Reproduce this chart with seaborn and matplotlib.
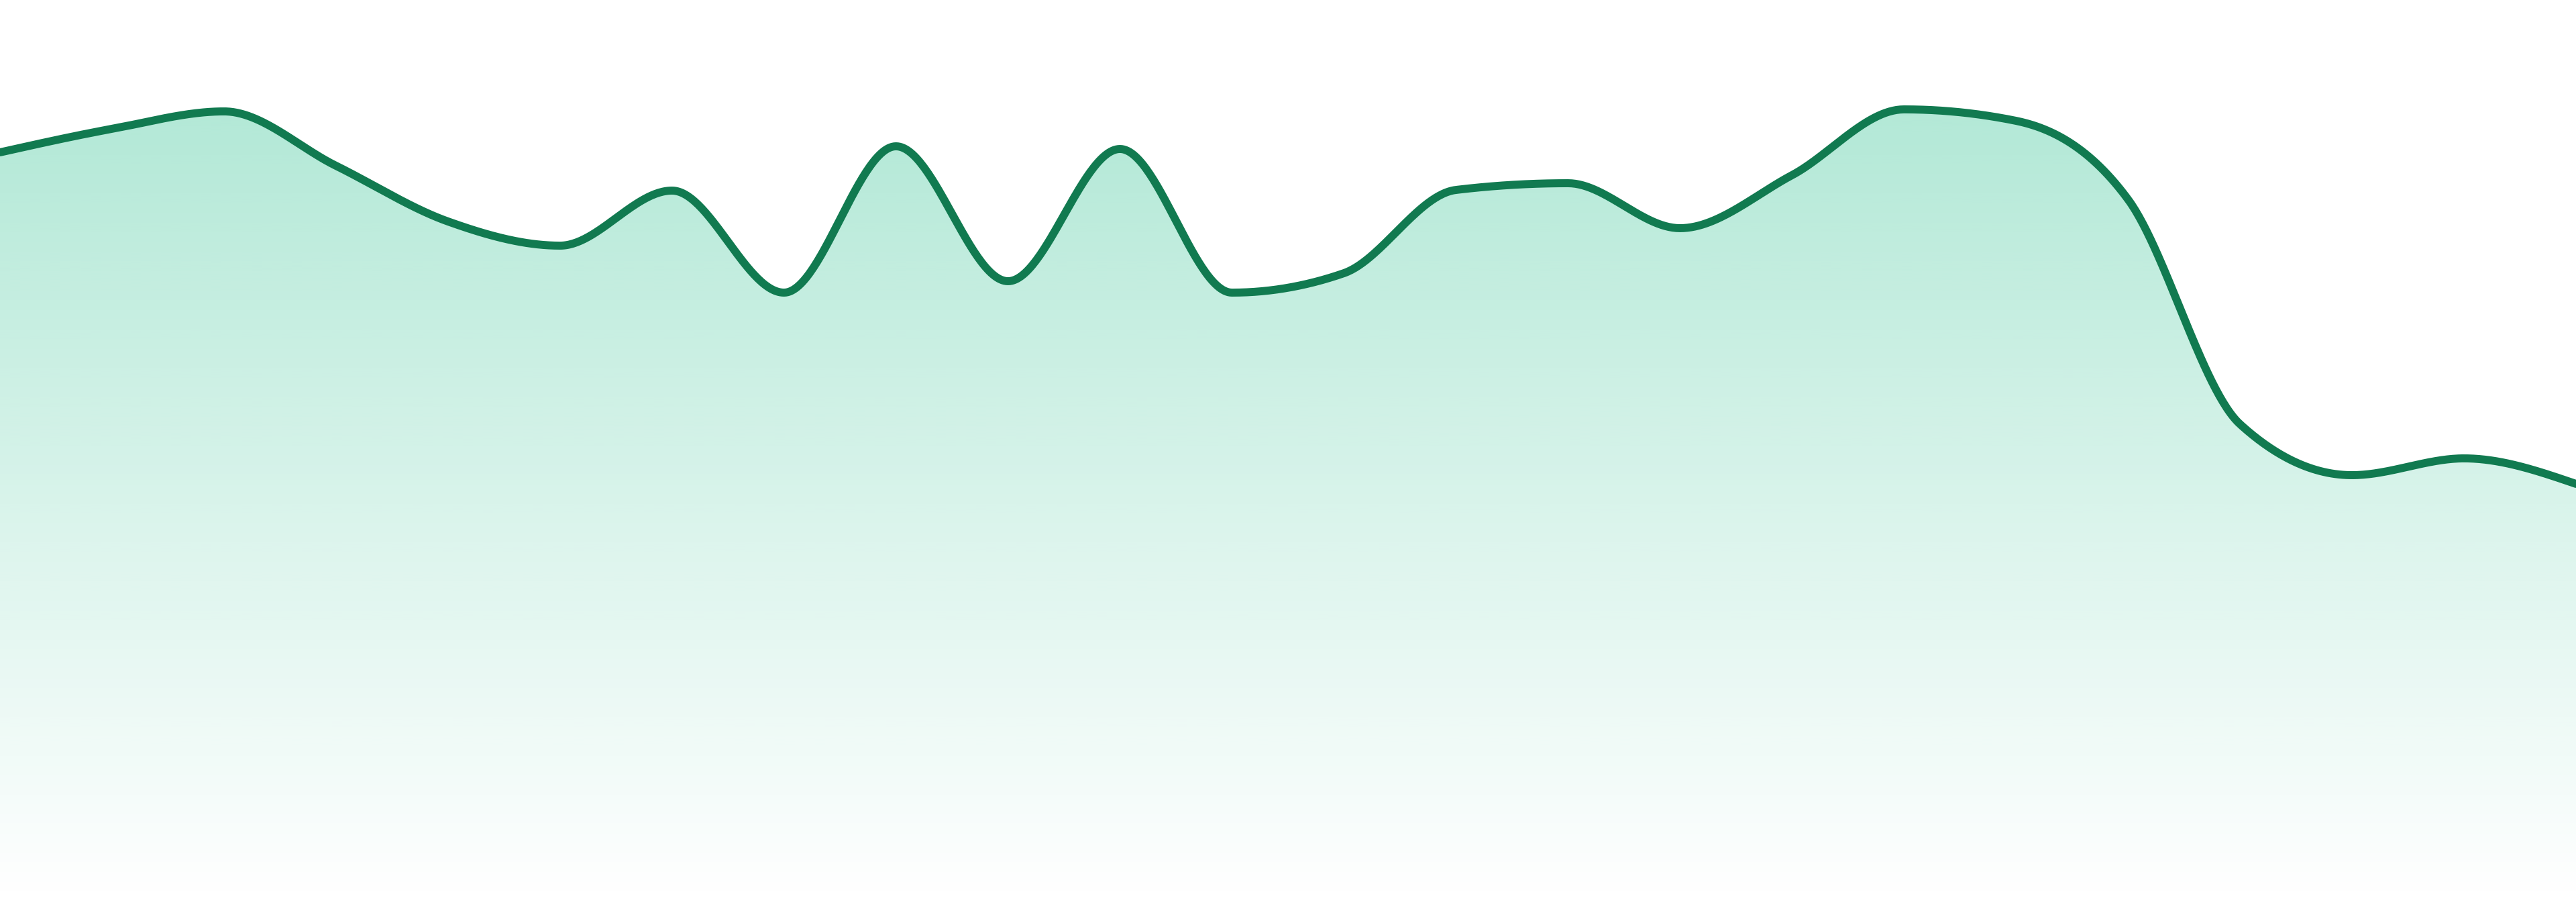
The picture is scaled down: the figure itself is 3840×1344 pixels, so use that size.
import numpy as np
import pandas as pd
import matplotlib
matplotlib.use("Agg")
import matplotlib.pyplot as plt
import seaborn as sns

# ---- data ----
index = list(range(24))
values = [111.7, 115.2, 117.8, 109.7, 101.4, 97.8, 106.0, 90.8, 112.6, 92.5,
          112.2, 90.8, 93.7, 106.1, 107.1, 100.4, 108.3, 118.1, 116.4, 104.7,
          71.2, 63.6, 66.1, 62.3]
y_max = 134.4

line_color = "#117a50"
fill_color = "#10b981"
fill_alpha_top = 0.32


def monotone_x(x, y, n=60):
    """d3 curveMonotoneX style interpolation."""
    x = np.asarray(x, float)
    y = np.asarray(y, float)
    m = len(x)
    t = np.zeros(m)
    for i in range(1, m - 1):
        h0 = x[i] - x[i - 1]
        h1 = x[i + 1] - x[i]
        s0 = (y[i] - y[i - 1]) / h0
        s1 = (y[i + 1] - y[i]) / h1
        p = (s0 * h1 + s1 * h0) / (h0 + h1)
        t[i] = (np.sign(s0) + np.sign(s1)) * min(abs(s0), abs(s1), 0.5 * abs(p))
    h = x[1] - x[0]
    t[0] = (3 * (y[1] - y[0]) / h - t[1]) / 2
    h = x[-1] - x[-2]
    t[-1] = (3 * (y[-1] - y[-2]) / h - t[-2]) / 2
    xs, ys = [], []
    for i in range(m - 1):
        dx = x[i + 1] - x[i]
        s = np.linspace(0, 1, n, endpoint=(i == m - 2))
        h00 = 2 * s**3 - 3 * s**2 + 1
        h10 = s**3 - 2 * s**2 + s
        h01 = -2 * s**3 + 3 * s**2
        h11 = s**3 - s**2
        xs.append(x[i] + s * dx)
        ys.append(h00 * y[i] + h10 * dx * t[i] + h01 * y[i + 1] + h11 * dx * t[i + 1])
    return np.concatenate(xs), np.concatenate(ys)


xs, ys = monotone_x(index, values)
curve = pd.DataFrame({"x": xs, "y": ys})

sns.set_theme(style="white")
fig = plt.figure(figsize=(38.4, 13.44), dpi=100)
ax = fig.add_axes([0, 0, 1, 1])

# gradient fill clipped to the area under the curve
poly = ax.fill_between(curve["x"], curve["y"], 0, facecolor="none", edgecolor="none")
top = curve["y"].max()
rgb = np.array(matplotlib.colors.to_rgb(fill_color))
alphas = np.linspace(0, fill_alpha_top, 512)
grad = np.zeros((512, 1, 4))
grad[:, 0, :3] = rgb
grad[:, 0, 3] = alphas
im = ax.imshow(grad, extent=[index[0], index[-1], 0, top], origin="lower",
               aspect="auto", interpolation="bilinear", zorder=1)
im.set_clip_path(poly.get_paths()[0], transform=ax.transData)

sns.lineplot(data=curve, x="x", y="y", color=line_color, linewidth=8.6,
             estimator=None, sort=False, ax=ax, zorder=3)

ax.set_xlim(index[0], index[-1])
ax.set_ylim(0, y_max)
ax.set_axis_off()

fig.savefig("out.png", dpi=100)
